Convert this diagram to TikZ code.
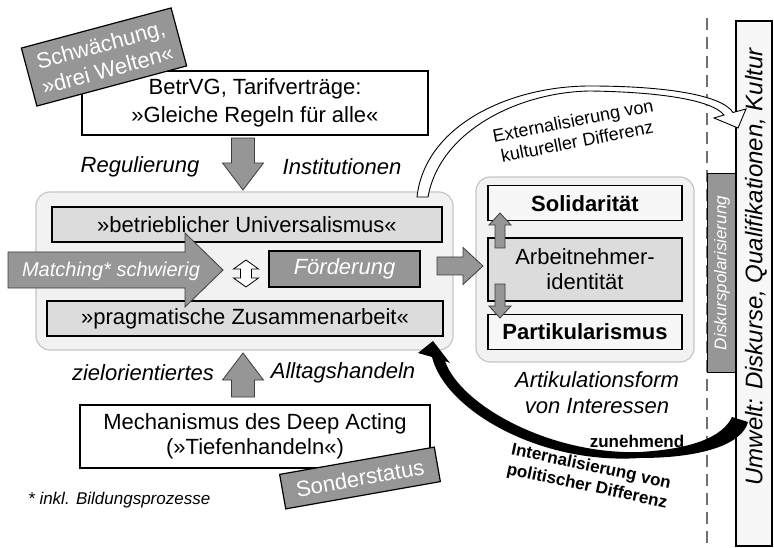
\documentclass[tikz,border=0pt]{standalone}
\usepackage{fontspec}
\setmainfont{Liberation Sans}
\usetikzlibrary{positioning}
\usetikzlibrary{calc}
\definecolor{dunkel}{RGB}{150,150,150}
\definecolor{hell}{RGB}{220,220,220}
\definecolor{blass}{RGB}{242,242,242}
\definecolor{fastweiss}{RGB}{247,247,247}
\definecolor{rahmen}{RGB}{198,198,198}
\definecolor{kante}{RGB}{60,60,60}
\definecolor{strich}{RGB}{112,112,112}
\tikzset{
  kasten/.style={draw, line width=1.2pt, inner sep=0pt, align=center, font=\fontsize{22}{26}\selectfont},
  graukasten/.style={kasten, fill=dunkel, text=white},
  hellkasten/.style={kasten, fill=hell},
  rahmenkasten/.style={draw=rahmen, line width=1.2pt, fill=blass, rounded corners=14pt, inner sep=0pt},
  beschrift/.style={inner sep=0pt, align=center, font=\fontsize{22}{26}\selectfont\itshape},
  % block arrow: half shaft, half head, head length
  blockpfeil/.style n args={3}{draw=kante, line width=0.8pt, fill=dunkel,
    to path={($(\tikztostart)!#1!90:(\tikztotarget)$)
      -- ($(\tikztotarget)!#3!(\tikztostart)!#1!-90:(\tikztostart)$)
      -- ($(\tikztotarget)!#3!(\tikztostart)!#2!-90:(\tikztostart)$)
      -- (\tikztotarget)
      -- ($(\tikztotarget)!#3!(\tikztostart)!#2!90:(\tikztostart)$)
      -- ($(\tikztotarget)!#3!(\tikztostart)!#1!90:(\tikztostart)$)
      -- ($(\tikztostart)!#1!-90:(\tikztotarget)$) -- cycle}},
  doppelpfeil/.style n args={3}{draw, line width=0.8pt, fill=white,
    to path={(\tikztostart)
      -- ($(\tikztostart)!#3!(\tikztotarget)!#2!90:(\tikztotarget)$)
      -- ($(\tikztostart)!#3!(\tikztotarget)!#1!90:(\tikztotarget)$)
      -- ($(\tikztotarget)!#3!(\tikztostart)!#1!-90:(\tikztostart)$)
      -- ($(\tikztotarget)!#3!(\tikztostart)!#2!-90:(\tikztostart)$)
      -- (\tikztotarget)
      -- ($(\tikztotarget)!#3!(\tikztostart)!#2!90:(\tikztostart)$)
      -- ($(\tikztotarget)!#3!(\tikztostart)!#1!90:(\tikztostart)$)
      -- ($(\tikztostart)!#3!(\tikztotarget)!#1!-90:(\tikztotarget)$)
      -- ($(\tikztostart)!#3!(\tikztotarget)!#2!-90:(\tikztotarget)$) -- cycle}},
}

\begin{document}
\begin{tikzpicture}[x=1pt, y=-1pt]
        \useasboundingbox (0,0) rectangle (774,548);

        % Betrieb %
        \node[rahmenkasten, minimum width=417pt, minimum height=158pt] (betrieb) at (244.5,271) {};
        \node[hellkasten, minimum width=390pt, minimum height=35pt] (univ) at (247,224.5) {»betrieblicher Universalismus«};
        \node[hellkasten, minimum width=396pt, minimum height=35pt] (prag) at (245,318.5) {»pragmatische Zusammenarbeit«};
        \node[graukasten, font=\fontsize{22}{26}\selectfont\itshape, minimum width=151pt, minimum height=36pt] (foerd) at (344.5,269) {Förderung};
        \coordinate (matchA) at (8,270);
        \coordinate (matchB) at (223,270);
        \draw[blockpfeil={18pt}{37pt}{38pt}] (matchA) to (matchB);
        \node[text=white, inner sep=0pt, font=\fontsize{20}{24}\selectfont\itshape] (matchlab) at (111,271) {Matching* schwierig};
        \coordinate (dblA) at (246,260);
        \coordinate (dblB) at (246,287);
        \draw[doppelpfeil={5.5pt}{12.5pt}{9pt}] (dblA) to (dblB);

        % oben %
        \node[kasten, fill=white, minimum width=346pt, minimum height=64pt, font=\fontsize{22}{28}\selectfont] (betr) at (255,103) {BetrVG, Tarifverträge:\\»Gleiche Regeln für alle«};
        \node[graukasten, rotate=15, minimum width=155pt, minimum height=60pt] (schw) at (104,57) {Schwächung,\\»drei Welten«};
        \coordinate (regA) at (243,138);
        \coordinate (regB) at (243,190);
        \draw[blockpfeil={11.5pt}{20.5pt}{27pt}] (regA) to (regB);
        \node[beschrift] (reglab) at (140,167) {Regulierung};
        \node[beschrift] (instlab) at (342,167) {Institutionen};

        % unten %
        \node[kasten, fill=white, minimum width=350pt, minimum height=63pt, font=\fontsize{22}{25}\selectfont] (mech) at (255,436.5) {Mechanismus des Deep Acting\\(»Tiefenhandeln«)};
        \node[graukasten, rotate=10, minimum width=157pt, minimum height=35pt] (sonder) at (360,478) {Sonderstatus};
        \coordinate (alltA) at (243,397);
        \coordinate (alltB) at (243,353);
        \draw[blockpfeil={11.5pt}{20.5pt}{27pt}] (alltA) to (alltB);
        \node[beschrift] (ziellab) at (143,373) {zielorientiertes};
        \node[beschrift] (alltlab) at (343,373) {Alltagshandeln};
        \node[beschrift, anchor=west, font=\fontsize{17}{20}\selectfont\itshape] (fussnote) at (28,500) {* inkl. Bildungsprozesse};

        % Identitaet %
        \node[rahmenkasten, minimum width=218pt, minimum height=185pt] (ident) at (585,269.5) {};
        \node[hellkasten, minimum width=194pt, minimum height=63pt, font=\fontsize{22}{25}\selectfont] (arbn) at (585,269.5) {Arbeitnehmer-\\identität};
        \node[kasten, fill=fastweiss, font=\fontsize{22}{26}\selectfont\bfseries, minimum width=194pt, minimum height=35pt, above=16pt of arbn] (soli) {Solidarität};
        \node[kasten, fill=fastweiss, font=\fontsize{22}{26}\selectfont\bfseries, minimum width=194pt, minimum height=35pt, below=12pt of arbn] (part) {Partikularismus};
        \coordinate (soliA) at (500,248);
        \coordinate (soliB) at (500,213);
        \draw[blockpfeil={5pt}{11pt}{12pt}] (soliA) to (soliB);
        \coordinate (partA) at (500,284);
        \coordinate (partB) at (500,318);
        \draw[blockpfeil={5pt}{11pt}{12pt}] (partA) to (partB);
        \coordinate (identA) at (437,266);
        \coordinate (identB) at (483,266);
        \draw[blockpfeil={9pt}{18.5pt}{20pt}] (identA) to (identB);
        \node[beschrift] (artik) at (597,393) {Artikulationsform\\von Interessen};

        % Umwelt %
        \coordinate (trennoben) at (707,18);
        \coordinate (trennunten) at (707,548);
        \draw[strich, line width=1.6pt, dash pattern=on 12pt off 7pt] (trennoben) -- (trennunten);
        \node[graukasten, line width=1pt, rotate=90, minimum width=198pt, minimum height=30pt, font=\fontsize{17}{20}\selectfont\itshape] (disk) at (722,273) {Diskurspolarisierung};
        \node[kasten, fill=fastweiss, rotate=90, minimum width=525pt, minimum height=36pt] (umw) at (754,283.5) {};
        \node[beschrift, rotate=90, font=\fontsize{24}{28}\selectfont\itshape] (umwlab) at (756,267) {Umwelt: Diskurse, Qualifikationen, Kultur};

        % edges %
        \filldraw[fill=white, draw=black, line width=0.9pt] (428,197) .. controls (440,130) and (520,92) .. (590,91) .. controls (660,92) and (712,100) .. (724,115) -- (714,118) -- (738,128) -- (746,109) -- (733,112.5) .. controls (722,95) and (665,86) .. (590,86) .. controls (510,86) and (425,125) .. (417,197) -- cycle;
        \node[inner sep=0pt, align=center, rotate=11, font=\fontsize{18}{21}\selectfont] (extlab) at (575,131) {Externalisierung von\\kultureller Differenz};
        \fill[black] (445,361) .. controls (460,405) and (550,455) .. (640,452) .. controls (690,449) and (722,438) .. (732,417) -- (748,422) .. controls (742,445) and (700,458) .. (640,458) .. controls (540,465) and (445,410) .. (432,357) -- (418,353) -- (433,341) -- (450,363) -- cycle;
        \node[inner sep=0pt, font=\fontsize{17}{20}\selectfont\bfseries] (zunlab) at (637,441) {zunehmend};
        \node[inner sep=0pt, align=center, rotate=-12, font=\fontsize{17}{20}\selectfont\bfseries] (intlab) at (589,477) {Internalisierung von\\politischer Differenz};
\end{tikzpicture}
\end{document}
